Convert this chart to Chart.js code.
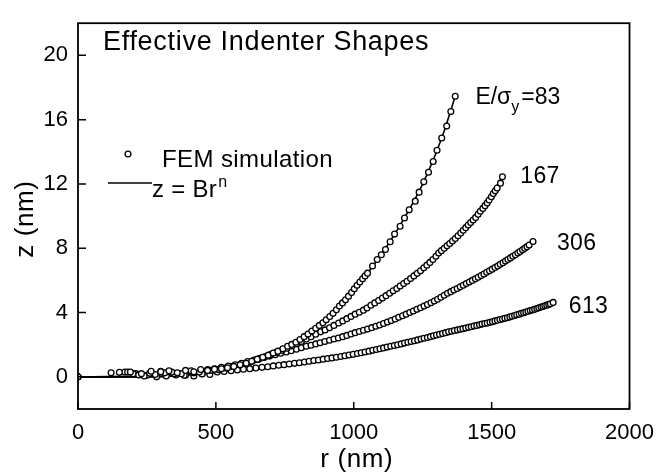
<!DOCTYPE html>
<html>
<head>
<meta charset="utf-8">
<script src="https://cdn.jsdelivr.net/npm/chart.js@4.4.1/dist/chart.umd.min.js"></script>
<style>
  html, body { margin: 0; padding: 0; background: #fff; }
  #wrap { width: 665px; height: 473px; position: relative; }
</style>
</head>
<body>
<div id="wrap"><canvas id="shapeChart"></canvas></div>
<script>
// Effective indenter shapes: FEM points and z = B r^n fits
const xTicks = [0, 500, 1000, 1500, 2000];
const yTicks = [0, 4, 8, 12, 16, 20];

// FEM simulation points (r in nm, z in nm)
const r83 = [0, 150, 190, 230, 265, 300, 330, 360, 390, 420, 445, 470, 495, 520, 542, 565, 588, 610, 630, 650, 670, 690, 708, 725, 743, 760, 775, 790, 805, 820, 834, 848, 862, 875, 888, 900, 913, 925, 937, 948, 959, 970, 981, 992, 1002, 1012, 1022, 1032, 1041, 1050, 1068, 1085, 1100, 1115, 1132, 1148, 1168, 1184, 1201, 1223, 1237, 1254, 1271, 1288, 1302, 1319, 1337, 1352, 1368];
const z83 = [0, 0.28, 0.3, 0.2, 0.35, 0.32, 0.38, 0.25, 0.4, 0.32, 0.45, 0.4, 0.48, 0.5, 0.57, 0.65, 0.75, 0.85, 0.97, 1.1, 1.22, 1.35, 1.48, 1.6, 1.75, 1.9, 2.02, 2.15, 2.32, 2.5, 2.67, 2.85, 3.02, 3.2, 3.37, 3.55, 3.75, 3.95, 4.17, 4.4, 4.6, 4.8, 5.02, 5.25, 5.48, 5.7, 5.9, 6.1, 6.28, 6.45, 6.9, 7.3, 7.6, 7.92, 8.4, 8.88, 9.37, 9.88, 10.39, 10.93, 11.49, 12.13, 12.73, 13.4, 14.1, 14.86, 15.6, 16.5, 17.46];

const r167 = [0, 120, 180, 220, 260, 300, 340, 375, 410, 440, 470, 495, 520, 545, 570, 593, 615, 638, 660, 680, 700, 720, 740, 758, 775, 793, 810, 828, 845, 862, 880, 896, 912, 928, 945, 960, 975, 990, 1005, 1020,
    1035, 1048, 1062, 1076, 1090, 1104, 1117, 1130, 1143, 1156, 1168, 1181, 1193, 1206, 1218, 1230, 1242, 1254, 1265, 1276, 1287, 1298, 1308, 1318, 1328, 1338, 1348, 1358, 1368, 1378, 1388, 1397, 1406, 1415, 1424, 1433, 1442, 1451, 1459, 1468, 1476, 1484, 1491, 1499, 1506, 1513, 1520, 1532, 1539];
const z167 = [0, 0.25, 0.3, 0.12, 0.22, 0.35, 0.3, 0.2, 0.38, 0.3, 0.45, 0.5, 0.6, 0.67, 0.75, 0.85, 0.95, 1.05, 1.15, 1.27, 1.4, 1.52, 1.65, 1.78, 1.92, 2.06, 2.2, 2.35, 2.5, 2.65, 2.8, 2.92, 3.05, 3.2, 3.35, 3.48, 3.62, 3.76, 3.9, 4.02,
    4.15, 4.28, 4.45, 4.6, 4.75, 4.9, 5.05, 5.2, 5.35, 5.5, 5.65, 5.8, 5.95, 6.12, 6.28, 6.44, 6.6, 6.78, 6.95, 7.12, 7.3, 7.5, 7.7, 7.85, 8.0, 8.15, 8.3, 8.45, 8.6, 8.78, 8.95, 9.12, 9.28, 9.44, 9.6, 9.76, 9.92, 10.12, 10.3, 10.48, 10.65, 10.82, 11.0, 11.2, 11.4, 11.57, 11.75, 12.05, 12.45];

const r306 = [0, 170, 200, 240, 280, 315, 350, 385, 420, 450, 480, 508, 535, 560, 585, 608, 630, 653, 675, 695, 715, 735, 755, 773, 792, 810, 828, 845, 862, 878, 895, 912, 928, 944, 960, 975, 990, 1005, 1020, 1035,
    1050, 1065, 1080, 1094, 1108, 1122, 1136, 1150, 1163, 1177, 1190, 1203, 1216, 1229, 1242, 1255, 1267, 1280, 1292, 1304, 1316, 1328, 1340, 1352, 1363, 1375, 1386, 1397, 1408, 1419, 1430, 1441, 1451, 1462, 1472, 1482, 1492, 1502, 1512, 1522, 1531, 1541, 1550, 1559, 1568, 1577, 1586, 1595, 1603, 1612, 1620, 1628, 1636, 1650];
const z306 = [0, 0.3, 0.2, 0.05, 0.15, 0.25, 0.2, 0.1, 0.25, 0.18, 0.4, 0.45, 0.55, 0.65, 0.75, 0.85, 0.95, 1.08, 1.2, 1.29, 1.38, 1.47, 1.55, 1.63, 1.72, 1.81, 1.9, 1.97, 2.05, 2.12, 2.2, 2.28, 2.35, 2.42, 2.5, 2.58, 2.67, 2.75, 2.82, 2.9,
    2.97, 3.06, 3.15, 3.23, 3.32, 3.41, 3.5, 3.6, 3.7, 3.8, 3.9, 4.0, 4.1, 4.2, 4.3, 4.4, 4.5, 4.61, 4.72, 4.83, 4.95, 5.08, 5.2, 5.3, 5.4, 5.5, 5.6, 5.7, 5.8, 5.9, 6.0, 6.1, 6.2, 6.3, 6.4, 6.5, 6.6, 6.7, 6.8, 6.9, 7.0, 7.1, 7.2, 7.3, 7.4, 7.5, 7.6, 7.7, 7.8, 7.9, 8.0, 8.1, 8.2, 8.42];

const r613 = [0, 210, 250, 285, 320, 355, 390, 420, 450, 478, 505, 530, 555, 578, 600, 623, 645, 667, 688, 708, 728, 747, 766, 785, 803, 821, 838, 855, 872, 889, 905, 921, 937, 953, 968, 983, 998, 1013, 1027, 1041,
    1055, 1069, 1082, 1095, 1108, 1121, 1134, 1147, 1159, 1172, 1184, 1196, 1208, 1220, 1232, 1244, 1255, 1267, 1278, 1289, 1300, 1311, 1322, 1333, 1344, 1355, 1365, 1376, 1386, 1396, 1406, 1416, 1426, 1436, 1446, 1456, 1465, 1475, 1484, 1494, 1503, 1512, 1521, 1530, 1539, 1548, 1557, 1566, 1574, 1583, 1591, 1600, 1608, 1616, 1624, 1632, 1640, 1648, 1656, 1664, 1671, 1679, 1686, 1693, 1700, 1707, 1713, 1723];
const z613 = [0, 0.2, 0.1, 0.0, 0.05, 0.12, 0.1, 0.05, 0.2, 0.15, 0.3, 0.34, 0.38, 0.43, 0.47, 0.51, 0.55, 0.59, 0.63, 0.68, 0.72, 0.76, 0.8, 0.84, 0.88, 0.92, 0.97, 1.01, 1.05, 1.1, 1.14, 1.18, 1.22, 1.27, 1.31, 1.36, 1.4, 1.45, 1.5, 1.55,
    1.6, 1.65, 1.7, 1.75, 1.8, 1.85, 1.9, 1.95, 2.0, 2.05, 2.1, 2.15, 2.2, 2.25, 2.3, 2.35, 2.4, 2.45, 2.5, 2.55, 2.6, 2.65, 2.7, 2.75, 2.8, 2.84, 2.88, 2.92, 2.96, 3.0, 3.04, 3.08, 3.12, 3.16, 3.2, 3.24, 3.28, 3.32, 3.35, 3.39, 3.43, 3.48, 3.52, 3.56, 3.6, 3.64, 3.68, 3.73, 3.77, 3.82, 3.86, 3.9, 3.95, 3.99, 4.03, 4.08, 4.12, 4.16, 4.2, 4.25, 4.3, 4.34, 4.38, 4.42, 4.46, 4.5, 4.55, 4.63];

// fitted curves z = B r^n
const rFit83 = [0, 300, 450, 550, 650, 750, 850, 950, 1050, 1150, 1250, 1320, 1368];
const zFit83 = [0, 0.02, 0.25, 0.6, 1.08, 1.78, 2.88, 4.45, 6.45, 8.92, 12.0, 14.9, 17.46];
const rFit167 = [0, 300, 450, 550, 650, 750, 850, 950, 1050, 1150, 1250, 1350, 1450, 1539];
const zFit167 = [0, 0.02, 0.25, 0.62, 1.1, 1.7, 2.55, 3.4, 4.3, 5.43, 6.72, 8.33, 10.1, 12.45];
const rFit306 = [0, 300, 450, 550, 650, 750, 850, 950, 1050, 1150, 1250, 1350, 1450, 1550, 1650];
const zFit306 = [0, 0.02, 0.25, 0.6, 1.07, 1.52, 2.0, 2.45, 2.97, 3.6, 4.35, 5.25, 6.2, 7.2, 8.42];
const rFit613 = [0, 300, 450, 550, 650, 750, 850, 950, 1050, 1150, 1250, 1350, 1450, 1550, 1650, 1723];
const zFit613 = [0, 0.02, 0.18, 0.37, 0.56, 0.78, 1.0, 1.26, 1.58, 1.96, 2.38, 2.82, 3.22, 3.65, 4.17, 4.63];

const FONT = '"Liberation Sans", Arial, Helvetica, sans-serif';

function pairs(xs, ys) {
    return xs.map((x, i) => ({ x: x, y: ys[i] }));
}

function femSet(xs, ys) {
    return {
        data: pairs(xs, ys),
        showLine: false,
        pointRadius: 2.9,
        pointBorderWidth: 1.3,
        pointBorderColor: '#000',
        pointBackgroundColor: '#fff',
        order: 0
    };
}

function fitSet(xs, ys) {
    return {
        data: pairs(xs, ys),
        showLine: true,
        pointRadius: 0,
        borderColor: '#000',
        borderWidth: 1.6,
        cubicInterpolationMode: 'monotone',
        order: 1
    };
}

function text(ctx, s, x, y, size, spacing) {
    ctx.font = size + 'px ' + FONT;
    ctx.letterSpacing = (spacing || 0) + 'px';
    ctx.fillText(s, x, y);
    const w = ctx.measureText(s).width;
    ctx.letterSpacing = '0px';
    return w;
}

// frame, inward ticks and all the annotation text
const decorPlugin = {
    id: 'decor',
    afterDraw(chart) {
        const ctx = chart.ctx;
        const a = chart.chartArea;
        const sx = chart.scales.x;
        const sy = chart.scales.y;
        ctx.save();
        ctx.strokeStyle = '#000';
        ctx.fillStyle = '#000';
        ctx.lineWidth = 1.8;
        ctx.strokeRect(a.left, a.top, a.right - a.left, a.bottom - a.top);

        ctx.lineWidth = 1.5;
        ctx.beginPath();
        xTicks.forEach(v => {
            const px = sx.getPixelForValue(v);
            ctx.moveTo(px, a.bottom);
            ctx.lineTo(px, a.bottom - 7);
        });
        yTicks.forEach(v => {
            const py = sy.getPixelForValue(v);
            ctx.moveTo(a.left, py);
            ctx.lineTo(a.left + 8, py);
        });
        ctx.stroke();

        ctx.textAlign = 'left';
        ctx.textBaseline = 'alphabetic';

        // title inside plot
        text(ctx, 'Effective Indenter Shapes', 103, 50, 27, 0.7);

        // legend
        ctx.lineWidth = 1.3;
        ctx.beginPath();
        ctx.arc(128, 154, 2.9, 0, Math.PI * 2);
        ctx.stroke();
        text(ctx, 'FEM simulation', 162, 167, 24, 0.4);
        ctx.lineWidth = 1.6;
        ctx.beginPath();
        ctx.moveTo(108, 183);
        ctx.lineTo(152, 183);
        ctx.stroke();
        let w = text(ctx, 'z = Br', 152, 197, 24, 0.3);
        text(ctx, 'n', 152 + w + 1, 187, 16);

        // curve labels placed at data positions
        let lx = sx.getPixelForValue(1441);
        let ly = sy.getPixelForValue(16.96);
        w = text(ctx, 'E/\u03c3', lx, ly, 23);
        text(ctx, 'y', lx + w, ly + 8, 16);
        text(ctx, '=83', lx + w + 10, ly, 23);
        text(ctx, '167', sx.getPixelForValue(1604), sy.getPixelForValue(12.09), 23, 0.3);
        text(ctx, '306', sx.getPixelForValue(1737), sy.getPixelForValue(7.88), 23, 0.3);
        text(ctx, '613', sx.getPixelForValue(1780), sy.getPixelForValue(3.97), 23, 0.3);

        // axis titles
        ctx.textAlign = 'center';
        text(ctx, 'r (nm)', (a.left + a.right) / 2 + 3, 467, 26, 0.6);
        ctx.translate(33, (a.top + a.bottom) / 2 + 3);
        ctx.rotate(-Math.PI / 2);
        text(ctx, 'z (nm)', 0, 0, 26, 0.6);
        ctx.restore();
    }
};

const tickFont = { family: FONT, size: 22 };

new Chart(document.getElementById('shapeChart').getContext('2d'), {
    type: 'scatter',
    data: {
        datasets: [
            femSet(r83, z83), femSet(r167, z167), femSet(r306, z306), femSet(r613, z613),
            fitSet(rFit83, zFit83), fitSet(rFit167, zFit167), fitSet(rFit306, zFit306), fitSet(rFit613, zFit613)
        ]
    },
    options: {
        responsive: true,
        maintainAspectRatio: false,
        animation: false,
        devicePixelRatio: 1,
        layout: { padding: { top: 9, right: 31, left: 0, bottom: 0 } },
        plugins: {
            legend: { display: false },
            tooltip: { enabled: false },
            title: { display: false }
        },
        scales: {
            x: {
                type: 'linear',
                min: 0,
                max: 2000,
                afterBuildTicks: s => { s.ticks = xTicks.map(v => ({ value: v })); },
                afterFit: s => { s.height = 64; },
                grid: { display: false, drawTicks: false },
                border: { display: false },
                ticks: { color: '#000', font: tickFont, padding: 11, maxRotation: 0, autoSkip: false,
                         callback: v => String(v) }
            },
            y: {
                type: 'linear',
                min: -2,
                max: 22,
                afterBuildTicks: s => { s.ticks = yTicks.map(v => ({ value: v })); },
                afterFit: s => { s.width = 78; },
                grid: { display: false, drawTicks: false },
                border: { display: false },
                ticks: { color: '#000', font: tickFont, padding: 10, autoSkip: false,
                         callback: v => String(v) }
            }
        }
    },
    plugins: [decorPlugin]
});
</script>
</body>
</html>
